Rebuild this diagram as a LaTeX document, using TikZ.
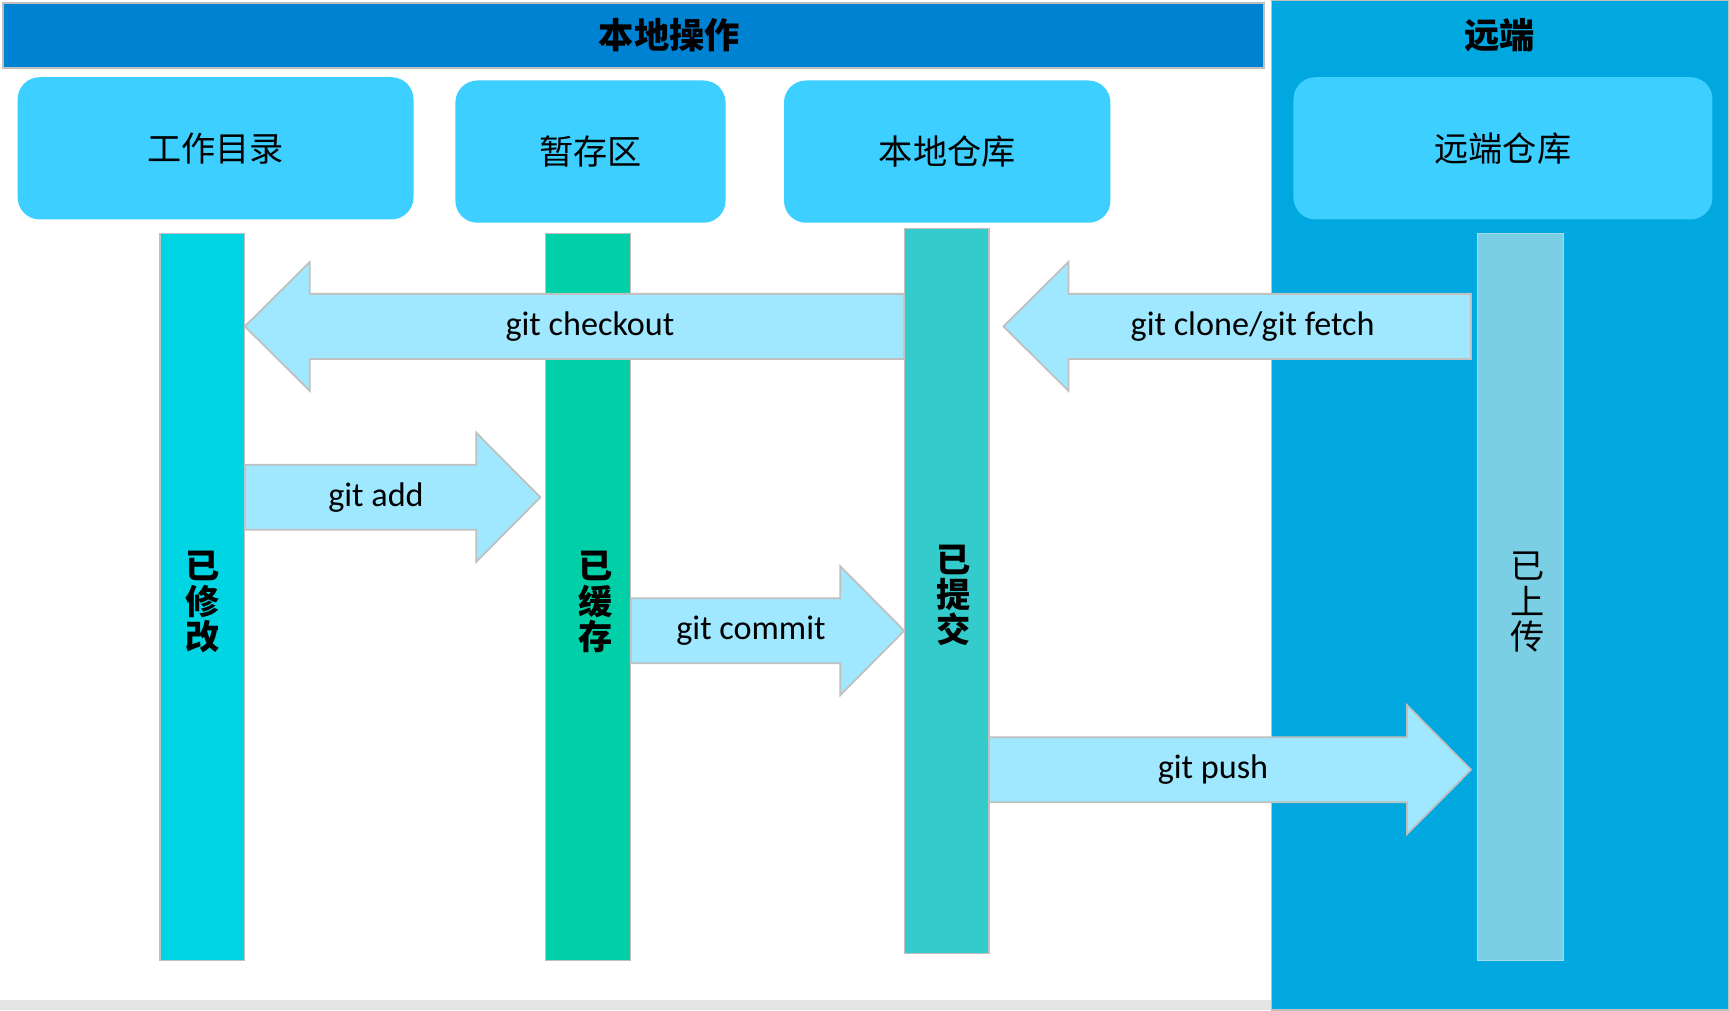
\documentclass[tikz,border=0pt]{standalone}
\usepackage{fontspec}
\setmainfont{Carlito}
\newfontfamily\cjk{Noto Sans CJK SC}
\usetikzlibrary{fit}
\definecolor{hdr}{RGB}{0,130,210}
\definecolor{remote}{RGB}{0,168,223}
\definecolor{boxc}{RGB}{61,207,255}
\definecolor{barA}{RGB}{0,213,227}
\definecolor{barB}{RGB}{0,207,168}
\definecolor{barC}{RGB}{51,203,204}
\definecolor{barD}{RGB}{123,207,228}
\definecolor{arrc}{RGB}{160,232,255}
\definecolor{edge}{RGB}{192,192,192}
\definecolor{strip}{RGB}{228,228,228}
\newcommand\rarr[5]{%
  \draw[arr] (#1,#4-29.5) -- (#2-58,#4-29.5) -- (#2-58,#4-58.5) -- (#2,#4)
    -- (#2-58,#4+58.5) -- (#2-58,#4+29.5) -- (#1,#4+29.5) -- cycle;
  \node[lbl] (#5) at (#3,#4) {git #5};}
\newcommand\larr[5]{%
  \draw[arr] (#1,#4-29.5) -- (#2+59,#4-29.5) -- (#2+59,#4-58.5) -- (#2,#4)
    -- (#2+59,#4+58.5) -- (#2+59,#4+29.5) -- (#1,#4+29.5) -- cycle;}
\begin{document}
\begin{tikzpicture}[x=0.5pt,y=-0.5pt,
  stage/.style={rounded corners=10pt, fill=boxc, draw=none, inner sep=0pt},
  stagetxt/.style={font=\cjk\fontsize{15.5}{18}\selectfont, inner sep=0pt},
  bar/.style={draw=edge, line width=0.6pt, inner sep=0pt},
  vtxt/.style={font=\cjk\bfseries\fontsize{15.5}{16}\selectfont, align=center, inner sep=0pt},
  arr/.style={fill=arrc, draw=edge, line width=0.8pt, line join=miter},
  lbl/.style={font=\fontsize{15.5}{18}\selectfont, inner sep=0pt},
  title/.style={font=\cjk\bfseries\fontsize{16}{18}\selectfont, inner sep=0pt}]
\useasboundingbox (0,0) rectangle (1568,916);
\fill[white] (0,0) rectangle (1568,916);
% bottom strip and remote panel
\fill[strip] (0,907) rectangle (1153,916);
\node[fill=remote, draw=edge, line width=0.6pt, inner sep=0pt, fit={(1153,0) (1568,916)}] (rp) {};
\node[fill=hdr, draw=edge, line width=0.8pt, inner sep=0pt, fit={(3,3) (1146,62)}] (hd) {};
\node[title] at (607,32) {本地操作};
\node[title] at (1360,32) {远端};
% stage boxes
\node[stage, fit={(16,70) (375,199)}] (wd) {};
\node[stagetxt] at (wd.center) {工作目录};
\node[stage, fit={(413,73) (658,202)}] (st) {};
\node[stagetxt] at (st.center) {暂存区};
\node[stage, fit={(711,73) (1007,202)}] (lr) {};
\node[stagetxt] at (lr.center) {本地仓库};
\node[stage, fit={(1173,70) (1553,199)}] (rr) {};
\node[stagetxt] at (rr.center) {远端仓库};
% bars
\node[bar, fill=barA, fit={(145,212) (222,871)}] (b1) {};
\node[bar, fill=barB, fit={(495,212) (572,871)}] (b2) {};
\node[bar, fill=barC, fit={(820,207) (897,865)}] (b3) {};
\node[bar, fill=barD, draw=barD!70!white, fit={(1340,212) (1418,871)}] (b4) {};
\node[vtxt] at (184,546) {已\\修\\改};
\node[vtxt] at (540,546) {已\\缓\\存};
\node[vtxt] at (865,540) {已\\提\\交};
\node[vtxt, font=\cjk\fontsize{15.5}{16}\selectfont] at (1385,546) {已\\上\\传};
% arrows
\larr{820}{222}{}{296}{}
\node[lbl] (co) at (535,296) {git checkout};
\larr{1334}{910}{}{296}{}
\node[lbl] (cf) at (1136,296) {git clone/git fetch};
\rarr{222}{490}{341}{451}{add}
\rarr{572}{820}{681}{572}{commit}
\rarr{897}{1334}{1100}{698}{push}
\end{tikzpicture}
\end{document}
